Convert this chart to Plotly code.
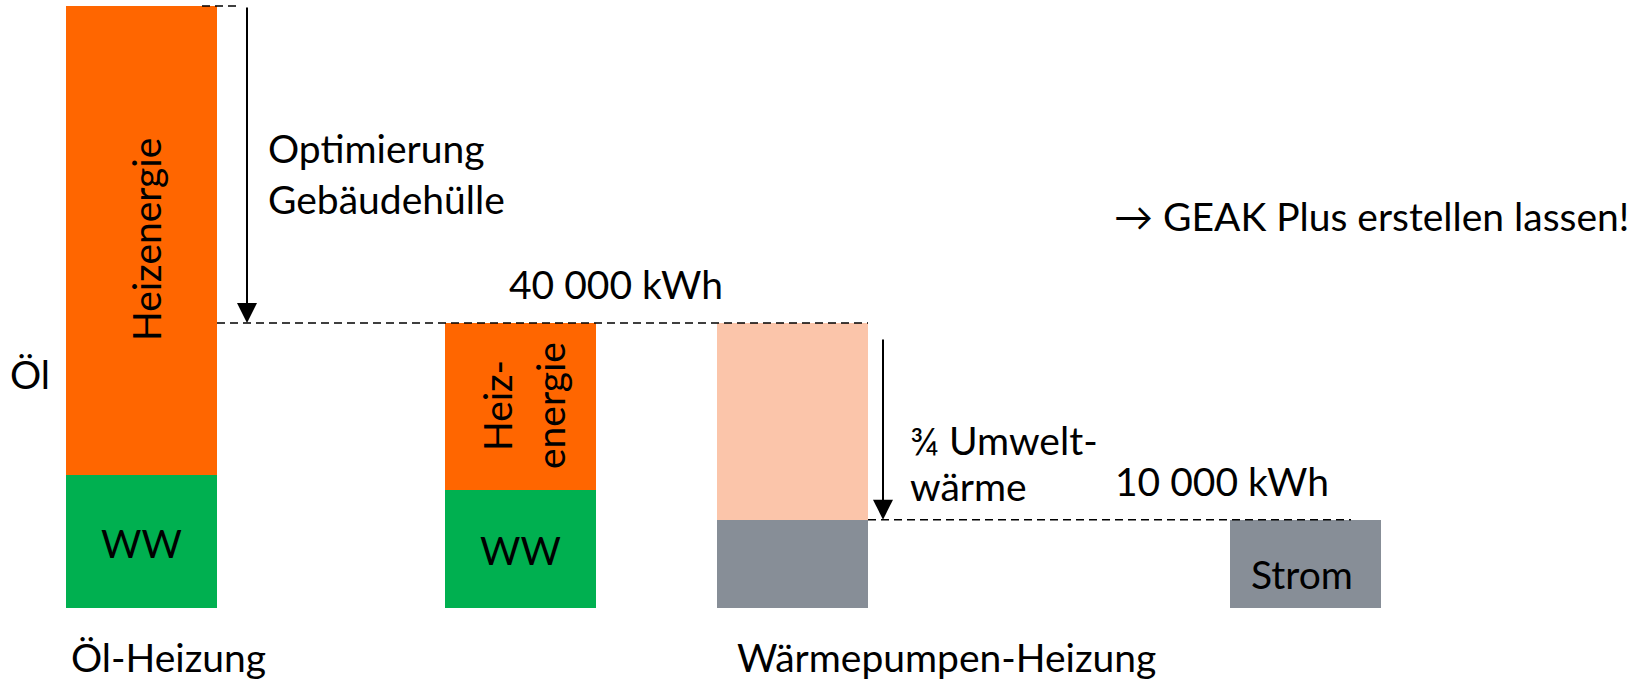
import plotly.graph_objects as go

# ---- data (kWh; scale: bar "40 000 kWh" = 40000) ----
bar_labels = ["Öl-Heizung", "Öl optimiert", "Wärmepumpe", "Strom"]
ww_values = [18700, 16600, None, None]          # Warmwasser
heiz_values = [65800, 23400, None, None]        # Heizenergie
strom_values = [None, None, 12400, 12400]       # Strom
umwelt_values = [None, None, 27600, None]       # Umweltwärme
label_40k = "40 000 kWh"
label_10k = "10 000 kWh"

# ---- layout helpers (pixel geometry) ----
W, H = 1637, 683
BASE_PX = 608                       # pixel row of value 0
K = 40000 / 285.0                   # kWh per pixel
bar_x = [141.5, 520, 792, 1305.5]   # bar centers in px
bar_w = 151

def ypx(p):
    return (BASE_PX - p) * K

def px(x):
    return x / W

def py(y):
    return 1 - y / H

FONT = "Lato"
FS = 39
ORANGE = "#FF6600"
GREEN = "#00B050"
PEACH = "#FBC5AA"
GRAY = "#878E97"

fig = go.Figure()
fig.add_trace(go.Bar(x=bar_x, y=ww_values, width=bar_w, marker=dict(color=GREEN, line=dict(width=0)), name="WW"))
fig.add_trace(go.Bar(x=bar_x, y=strom_values, width=bar_w, marker=dict(color=GRAY, line=dict(width=0)), name="Strom"))
fig.add_trace(go.Bar(x=bar_x, y=heiz_values, width=bar_w, marker=dict(color=ORANGE, line=dict(width=0)), name="Heizenergie"))
fig.add_trace(go.Bar(x=bar_x, y=umwelt_values, width=bar_w, marker=dict(color=PEACH, line=dict(width=0)), name="Umweltwärme"))

total1 = ww_values[0] + heiz_values[0]
total2 = ww_values[1] + heiz_values[1]
strom_level = strom_values[2]

dash = dict(color="black", width=1.5, dash="8px,5px")
shapes = [
    dict(type="line", xref="x", yref="y", x0=202, x1=237, y0=total1, y1=total1, line=dash),
    dict(type="line", xref="x", yref="y", x0=217, x1=868, y0=total2, y1=total2, line=dash),
    dict(type="line", xref="x", yref="y", x0=868, x1=1351, y0=strom_level, y1=strom_level, line=dash),
]

ann = []
# arrows
ann.append(dict(x=247, y=total2, ax=247, ay=total1, xref="x", yref="y", axref="x", ayref="y",
                showarrow=True, arrowhead=2, arrowsize=2, arrowwidth=2, arrowcolor="black", text="", standoff=0))
ann.append(dict(x=883, y=strom_level, ax=883, ay=total2 - 15 * K, xref="x", yref="y", axref="x", ayref="y",
                showarrow=True, arrowhead=2, arrowsize=2, arrowwidth=2, arrowcolor="black", text="", standoff=0))

def txt(s, x, y, xanchor="left", angle=0, size=FS):
    ann.append(dict(text=s, x=px(x), y=py(y), xref="paper", yref="paper", xanchor=xanchor, yanchor="middle",
                    showarrow=False, textangle=angle, font=dict(family=FONT, size=size, color="black")))

txt("Heizenergie", 146, 240, xanchor="center", angle=-90)
txt("WW", 141.5, 543, xanchor="center")
txt("Heiz-", 497, 406, xanchor="center", angle=-90)
txt("energie", 550, 406, xanchor="center", angle=-90)
txt("WW", 520, 550, xanchor="center")
txt("Strom", 1302, 574, xanchor="center")
txt("Öl", 8, 374)
txt("Öl-Heizung", 69, 657)
txt("Wärmepumpen-Heizung", 735, 657)
txt("Optimierung", 266, 148)
txt("Gebäudehülle", 266, 199)
txt(label_40k, 507, 284)
txt("¾ Umwelt-", 908, 440)
txt("wärme", 908, 486)
txt(label_10k, 1113, 481)
txt("→ GEAK Plus erstellen lassen!", 1112, 216)

fig.update_layout(
    width=W, height=H,
    margin=dict(l=0, r=0, t=0, b=0),
    paper_bgcolor="white", plot_bgcolor="white",
    barmode="stack", bargap=0,
    showlegend=False,
    xaxis=dict(range=[0, W], visible=False, fixedrange=True),
    yaxis=dict(range=[ypx(H), ypx(0)], visible=False, fixedrange=True),
    shapes=shapes, annotations=ann,
)

fig.write_html("out.html", config={"displayModeBar": False},
               post_script="document.body.style.margin='0';document.body.style.overflow='hidden';")
